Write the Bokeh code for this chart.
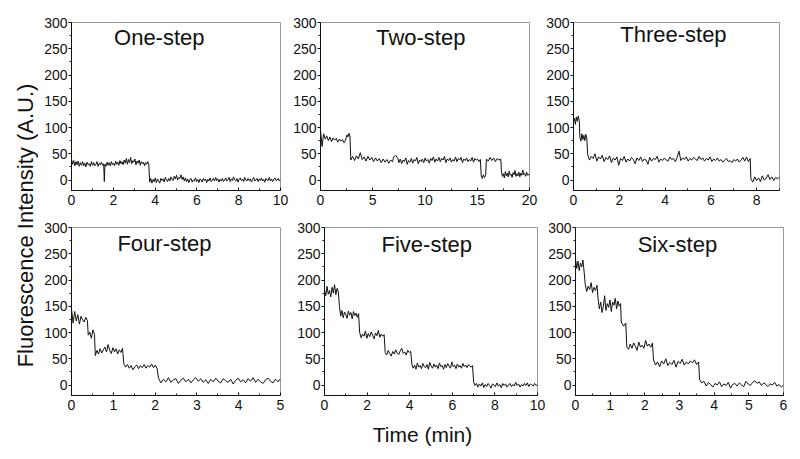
import numpy as np
from bokeh.plotting import figure
from bokeh.layouts import row, column
from bokeh.models import Range1d, FixedTicker, Label
from bokeh.embed import file_html
from bokeh.resources import INLINE

# ---------------- data ----------------
# each trace: list of (t_start, t_end, [intensity samples]) segments, time in min
panel_titles = ["One-step", "Two-step", "Three-step", "Four-step", "Five-step", "Six-step"]
panel_xmax = [10, 20, 9, 5, 10, 6]
panel_xticks = [[0, 2, 4, 6, 8, 10], [0, 5, 10, 15, 20], [0, 2, 4, 6, 8],
                [0, 1, 2, 3, 4, 5], [0, 2, 4, 6, 8, 10], [0, 1, 2, 3, 4, 5, 6]]
panel_xminor = [[1, 3, 5, 7, 9], [2.5, 7.5, 12.5, 17.5], [1, 3, 5, 7, 9],
                [0.5, 1.5, 2.5, 3.5, 4.5], [1, 3, 5, 7, 9], [0.5, 1.5, 2.5, 3.5, 4.5, 5.5]]
y_ticks = [0, 50, 100, 150, 200, 250, 300]
y_minor = [25, 75, 125, 175, 225, 275]

one_step = [
    (0.0, 1.54, [40, 30, 37, 27, 35, 29, 36, 26, 33, 28, 35, 27, 32, 25, 34, 29, 31, 26, 35, 28, 33, 27, 30, 35,
                 26, 32, 29, 34, 28, 31]),
    (1.57, 1.57, [-3]),
    (1.60, 3.70, [30, 26, 34, 28, 33, 27, 35, 29, 32, 27, 36, 30, 34, 28, 37, 31, 35, 29, 38, 32, 41, 30, 39, 33,
                  43, 31, 37, 34, 40, 29, 36, 32, 38, 28, 35, 31, 34, 27, 33, 30, 35, 29]),
    (3.74, 10.0, [-4, 3, -6, 1, -3, 4, -5, 2, -2, -6, 3, -1, 2, -4, 5, 0, -3, 3, -2, 6, 1, -1, 7, 2, 9, 0, 5, 3,
                  10, 1, 6, -2, 4, -3, 2, -5, 1, 3, -4, 0, -2, 4, -3, 1, -5, 2, 0, -4, 3, -1, 2, -5, 1, -2, 4, -3,
                  0, 3, -2, 5, -1, 2, -4, 1, -2, 3, -3, 0, 4, -2, 1, 5, -3, 2, -1, 6, 0, -2, 3, -4, 1, 4, -1, 2,
                  -3, 5, 0, -2, 3, -1, 2, -4, 1, 5, -2, 0, 3, -3, 2, -1, 4, -2, 1, -4, 3, 0, -1, 5, -2, 2, -3, 1,
                  4, -1, 0, 3, -2, 1]),
]
two_step = [
    (0.0, 2.4, [95, 64, 88, 78, 84, 75, 82, 73, 80, 76, 79, 72, 78, 74, 77, 71, 76]),
    (2.45, 2.82, [80, 86, 82, 89, 84]),
    (2.9, 6.9, [38, 45, 37, 46, 40, 52, 39, 44, 36, 45, 38, 43, 35, 42, 36, 41, 33, 40, 34, 39, 32, 38, 35]),
    (7.0, 7.4, [44, 47, 41]),
    (7.5, 15.3, [33, 40, 31, 38, 35, 42, 30, 37, 34, 41, 32, 39, 36, 43, 31, 38, 35, 40, 33, 42, 36, 39, 32, 41,
                 37, 44, 34, 40, 36, 43, 35, 41, 38, 45, 33, 40, 37, 42, 34, 39, 36, 44, 35, 41, 38, 43, 33, 40,
                 37, 42, 35, 39, 36, 43, 34, 41, 38, 40, 35, 39]),
    (15.38, 15.8, [8, 3, 10, 5, 9]),
    (15.88, 17.25, [40, 36, 43, 37, 42, 35, 41, 38, 40]),
    (17.32, 20.0, [15, 7, 12, 4, 16, 8, 13, 6, 17, 9, 11, 5, 14, 10, 18, 7, 12, 8, 15, 6, 13, 9, 19, 10, 12,
                   7, 15, 9, 11, 8]),
]
three_step = [
    (0.0, 0.25, [110, 118, 106, 120, 112, 122, 113]),
    (0.28, 0.58, [82, 74, 88, 77, 85, 75, 87, 80]),
    (0.62, 7.72, [48, 38, 45, 41, 50, 36, 44, 40, 47, 35, 43, 39, 46, 33, 42, 38, 44, 28, 41, 37, 45, 34, 40, 36,
                  43, 39, 31, 42, 37, 44, 35, 40, 38, 30, 43, 36, 41, 39, 45, 34, 40, 37, 42, 38, 36, 44, 39, 41,
                  35, 43, 55, 37, 42, 39, 44, 36, 41, 38, 43, 40, 37, 45, 39, 42, 36, 41, 38, 44, 35, 40, 37, 42,
                  36, 39, 34, 38, 41, 35, 37, 33, 39, 36, 40, 34, 38, 43, 36, 44, 35, 41]),
    (7.75, 9.0, [2, -4, 6, -1, 4, -3, 8, 0, 3, 10, 1, 6, -1, 5, 2, 6]),
]
four_step = [
    (0.0, 0.38, [145, 118, 140, 122, 134, 116, 131, 124, 120, 129, 123]),
    (0.40, 0.55, [95, 101, 89, 105, 96]),
    (0.57, 1.22, [56, 66, 59, 69, 61, 67, 72, 63, 77, 66, 60, 71, 63, 69, 59, 67, 62, 70]),
    (1.25, 2.05, [41, 34, 39, 32, 37, 29, 35, 38, 31, 37, 33, 39, 32, 37, 34, 40, 33, 38, 31]),
    (2.08, 5.0, [13, 4, 11, 6, 14, 5, 10, 12, 3, 9, 13, 6, 11, 4, 10, 14, 7, 12, 5, 10, 3, 11, 6, 13, 7,
                 4, 12, 8, 5, 11, 2, 9, 13, 6, 10, 4, 12, 7, 14, 5, 11, 6, 3, 10, 13, 7, 4, 11, 6, 12]),
]
five_step = [
    (0.0, 0.65, [182, 170, 188, 173, 180, 168, 186, 175, 191, 172, 184, 177]),
    (0.70, 1.60, [150, 131, 142, 128, 139, 134, 127, 141, 133, 138, 126, 140, 132, 137, 129, 136]),
    (1.65, 2.80, [100, 90, 97, 93, 103, 89, 98, 92, 101, 95, 88, 99, 94, 104, 91, 97, 93, 96]),
    (2.85, 4.05, [62, 57, 66, 60, 55, 64, 59, 67, 61, 58, 65, 70, 60, 63, 57, 66, 62, 64]),
    (4.10, 6.95, [40, 32, 38, 30, 42, 34, 37, 31, 41, 35, 33, 39, 30, 43, 36, 32, 40, 34, 38, 31, 42, 35, 37,
                  30, 39, 33, 41, 36, 32, 44, 35, 38, 31, 40, 34, 37, 32, 41, 35, 38, 33, 39, 36, 34, 37]),
    (7.0, 10.0, [6, -1, 3, -4, 2, -2, 4, -5, 1, -3, 3, -1, -6, 2, 0, -3, 4, -2, 1, -5, 3, -1, 2, -4, 0, 3, -3,
                 1, -2, 5, -1, 2, -4, 1, -2, 3, -1, 4, -3, 2, 0, -2, 3, -1, 1]),
]
six_step = [
    (0.0, 0.25, [240, 222, 236, 218, 232, 225, 238, 215]),
    (0.28, 0.62, [192, 178, 188, 182, 195, 176, 186, 180, 190]),
    (0.65, 1.30, [165, 145, 158, 138, 150, 170, 142, 155, 148, 162, 140, 158, 152, 165, 145, 160, 150, 155]),
    (1.32, 1.45, [120, 112, 118]),
    (1.48, 2.22, [72, 68, 78, 70, 80, 74, 66, 82, 72, 76, 70, 85, 74, 78, 72, 80]),
    (2.25, 3.55, [48, 38, 44, 35, 46, 40, 50, 37, 43, 39, 47, 34, 45, 41, 49, 38, 44, 40, 46, 42, 48, 39, 44]),
    (3.58, 6.0, [10, 4, 7, -2, 5, 1, -4, 3, 0, 6, -3, 2, -1, 5, -6, 1, 3, -2, 4, 0, -3, 7, 2, -1, 5, 8, 3, 6,
                 -1, 4, 1, -3, 2, 0, 5, -2, 1, -4, 0]),
]
traces = [one_step, two_step, three_step, four_step, five_step, six_step]

# ---------------- styling / layout ----------------
FONT = "Liberation Sans"
# (width, height, border_left, border_right, border_top, border_bottom)
geom = [
    (252, 215, 33, 10, 22, 24),
    (250, 215, 29, 11, 20, 25),
    (252, 215, 33, 13, 19, 24),
    (252, 203, 33, 10, 12, 23),
    (255, 203, 34, 8, 12, 20),
    (247, 203, 29, 9, 12, 21),
]
title_pos = [(0.42, 272), (0.48, 272), (0.485, 277), (0.445, 270), (0.48, 268), (0.49, 268)]


def make_panel(i):
    w, h, bl, br, bt, bb = geom[i]
    xmax = panel_xmax[i]
    xs, ys = [], []
    for t0, t1, vals in traces[i]:
        xs.extend(np.linspace(t0, t1, len(vals)).tolist())
        ys.extend(vals)
    p = figure(width=w, height=h, x_range=Range1d(0, xmax), y_range=Range1d(-20, 300),
               toolbar_location=None, output_backend="svg",
               min_border_left=bl, min_border_right=br, min_border_top=bt, min_border_bottom=bb)
    p.line(xs, ys, line_color="#111111", line_width=1)
    p.xgrid.visible = False
    p.ygrid.visible = False
    p.outline_line_color = "#9a9a9a"
    p.outline_line_width = 1
    p.background_fill_color = "white"
    p.border_fill_color = "white"

    p.xaxis.ticker = FixedTicker(ticks=panel_xticks[i], minor_ticks=panel_xminor[i])
    p.yaxis.ticker = FixedTicker(ticks=y_ticks, minor_ticks=y_minor)
    for ax in (p.xaxis, p.yaxis):
        ax.axis_line_color = "#111111"
        ax.major_tick_line_color = "#111111"
        ax.minor_tick_line_color = "#111111"
        ax.major_label_text_font = FONT
        ax.major_label_text_font_size = "14px"
        ax.major_label_text_color = "#111111"
    p.xaxis.major_tick_in = 3
    p.xaxis.major_tick_out = 0
    p.xaxis.minor_tick_in = 2
    p.xaxis.minor_tick_out = 0
    p.xaxis.major_label_standoff = 4
    p.yaxis.major_tick_in = 0
    p.yaxis.major_tick_out = 3
    p.yaxis.minor_tick_in = 0
    p.yaxis.minor_tick_out = 2
    p.yaxis.major_label_standoff = 1

    fx, ty = title_pos[i]
    p.add_layout(Label(x=fx * xmax, y=ty, text=panel_titles[i], text_font=FONT,
                       text_font_size="22px", text_align="center", text_baseline="middle",
                       text_color="#111111"))
    return p


panels = [make_panel(i) for i in range(6)]

ylab = figure(width=38, height=451, x_range=Range1d(0, 38), y_range=Range1d(0, 451),
              toolbar_location=None, output_backend="svg", min_border=0,
              x_axis_type=None, y_axis_type=None, outline_line_color=None)
ylab.xgrid.visible = False
ylab.ygrid.visible = False
ylab.add_layout(Label(x=25, y=226, text="Fluorescence Intensity (A.U.)", angle=np.pi / 2,
                      text_align="center", text_baseline="middle", text_font=FONT,
                      text_font_size="22px", text_color="#111111"))

xlab = figure(width=754, height=33, x_range=Range1d(0, 754), y_range=Range1d(0, 33),
              toolbar_location=None, output_backend="svg", min_border=0,
              x_axis_type=None, y_axis_type=None, outline_line_color=None)
xlab.xgrid.visible = False
xlab.ygrid.visible = False
xlab.add_layout(Label(x=384, y=17, text="Time (min)", text_align="center", text_baseline="middle",
                      text_font=FONT, text_font_size="21px", text_color="#111111"))

layout = row(ylab, column(row(*panels[:3]), row(*panels[3:]), xlab))

open("out.html", "w").write(file_html(layout, INLINE))
